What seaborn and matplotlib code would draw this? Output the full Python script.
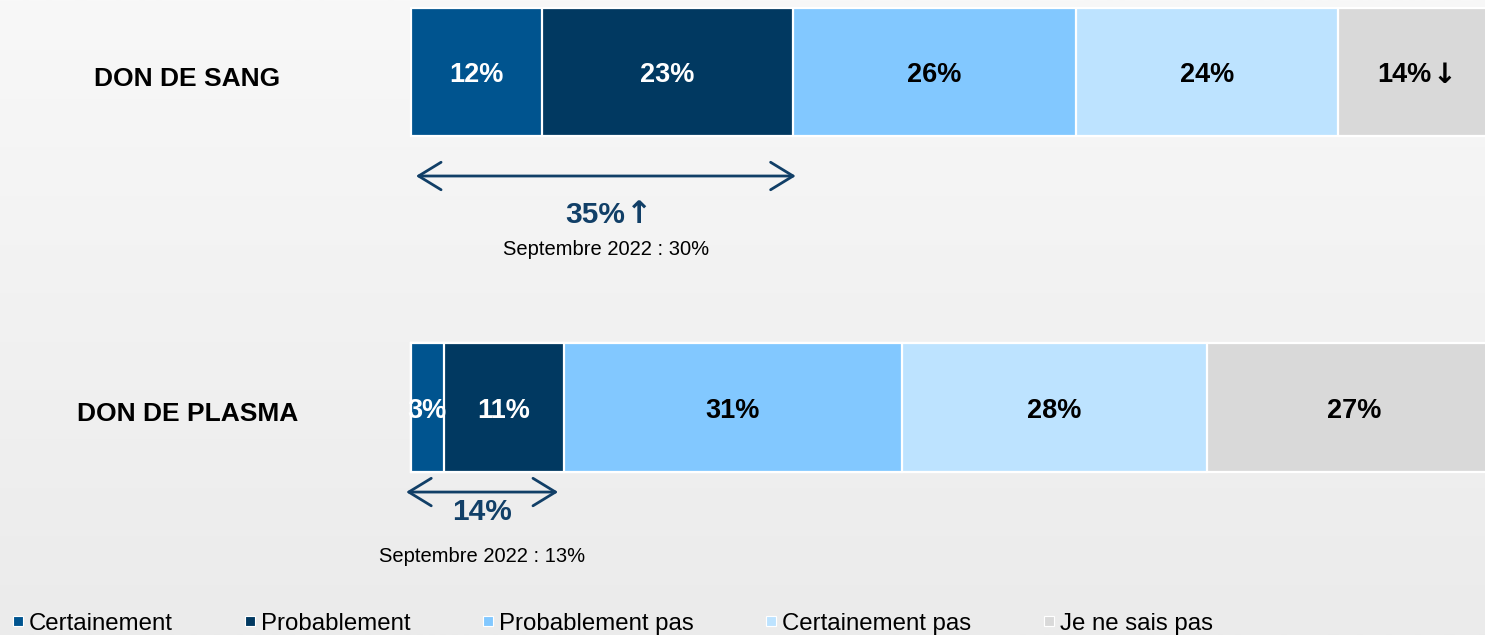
import numpy as np
import pandas as pd
import matplotlib
matplotlib.use("Agg")
import matplotlib.pyplot as plt
from matplotlib.lines import Line2D
import seaborn as sns

# ======================================================
# DATA
# ======================================================
rows = ["DON DE SANG", "DON DE PLASMA"]
categories = ["Certainement", "Probablement", "Probablement pas",
              "Certainement pas", "Je ne sais pas"]
sang = [12, 23, 26, 24, 14]
plasma = [3, 11, 31, 28, 27]
# small trend arrows next to some labels
sang_marks = ["", "", "", "", "↓"]
plasma_marks = ["", "", "", "", ""]

net_values = [35, 14]
net_marks = ["↑", ""]
sept_2022 = [30, 13]

colors = ["#00548f", "#013961", "#82c8ff", "#bde3ff", "#d9d9d9"]
text_colors = ["white", "white", "black", "black", "black"]
NAVY = "#113f67"

# ======================================================
# STYLE
# ======================================================
sns.set_style("white")
plt.rcParams["font.family"] = ["Liberation Sans", "DejaVu Sans"]
plt.rcParams["text.color"] = "black"

fig = plt.figure(figsize=(14.85, 6.35), dpi=100)
fig.patch.set_facecolor("#f0f0f0")

# soft grey background
bg = fig.add_axes([0, 0, 1, 1])
grad = np.linspace(0, 1, 256).reshape(-1, 1)
bg.imshow(grad, aspect="auto", cmap=matplotlib.colors.LinearSegmentedColormap.from_list(
    "bg", ["#f8f8f8", "#ebebeb"]), extent=[0, 1, 0, 1])
bg.axis("off")

ax = fig.add_axes([0, 0, 1, 1])
ax.set_facecolor("none")

# ======================================================
# STACKED BARS (cumulative layers, drawn back to front)
# ======================================================
df = pd.DataFrame({
    "row": np.repeat(rows, len(categories)),
    "category": categories * len(rows),
    "value": sang + plasma,
})
df["cum"] = df.groupby("row")["value"].cumsum()
df["start"] = df["cum"] - df["value"]

for i in reversed(range(len(categories))):
    sub = df[df["category"] == categories[i]]
    sns.barplot(data=sub, x="cum", y="row", order=rows, orient="h",
                color=colors[i], width=0.382, edgecolor="white",
                linewidth=1.6, saturation=1, ax=ax)


def label_with_arrow(x, y, text, mark, size, color):
    """text centred on x, with a bold arrow glyph glued to its right"""
    shift = -size * 0.33 if mark else 0
    t = ax.annotate(text, xy=(x, y), xytext=(shift, 0), textcoords="offset points",
                    ha="center", va="center", fontsize=size,
                    fontweight="bold", color=color)
    if mark:
        ax.annotate(mark, xy=(1, 0.5), xycoords=t, xytext=(0.5, 0),
                    textcoords="offset points", ha="left", va="center",
                    fontsize=size * 1.05, fontweight="bold", color=color,
                    family="DejaVu Sans")


marks = sang_marks + plasma_marks
for k, r in df.reset_index(drop=True).iterrows():
    yi = rows.index(r["row"])
    ci = categories.index(r["category"])
    label_with_arrow(r["start"] + r["value"] / 2, yi + 0.01,
                     f"{r['value']}%", marks[k], 19.5, text_colors[ci])

# row labels
for yi, name in enumerate(rows):
    ax.text(-20.5, yi + 0.02, name, ha="center", va="center",
            fontsize=19, fontweight="bold", color="black")

# ======================================================
# NET (Certainement + Probablement) ANNOTATIONS
# ======================================================
arrow_dy = [0.31, 0.252]
net_dy = [0.425, 0.311]
sept_dy = [0.53, 0.443]
for yi in range(len(rows)):
    x0 = 0.45 if yi == 0 else -0.45
    x1 = net_values[yi] + 0.3 if yi == 0 else net_values[yi] - 0.5
    ax.annotate("", xy=(x0, yi + arrow_dy[yi]), xytext=(x1, yi + arrow_dy[yi]),
                arrowprops=dict(arrowstyle="<->,head_length=0.9,head_width=0.55",
                                color=NAVY, lw=2, mutation_scale=18,
                                shrinkA=0, shrinkB=0))
    label_with_arrow(net_values[yi] / 2 + (0.3 if yi == 0 else -0.5), yi + net_dy[yi],
                     f"{net_values[yi]}%", net_marks[yi], 21.5, NAVY)
    ax.text(net_values[yi] / 2 + (0.4 if yi == 0 else -0.5), yi + sept_dy[yi],
            f"Septembre 2022 : {sept_2022[yi]}%", ha="center", va="center",
            fontsize=14.5, color="black")

ax.set_xlim(-411 / 10.9, (1485 - 411) / 10.9)
ax.set_ylim(563 / 335.5, -72 / 335.5)
ax.axis("off")

# ======================================================
# LEGEND
# ======================================================
handles = [Line2D([0], [0], marker="s", linestyle="none", markersize=7.5,
                  markerfacecolor=c, markeredgecolor="white", markeredgewidth=0.8)
           for c in colors]
leg = fig.legend(handles, categories, loc="center left", bbox_to_anchor=(0.004, 0.018),
                 ncol=5, frameon=False, fontsize=17.3, handlelength=0.6,
                 handletextpad=0.15, columnspacing=2.93, borderaxespad=0,
                 borderpad=0.2)
for txt in leg.get_texts():
    txt.set_color("black")

fig.savefig("out.png", dpi=100, facecolor=fig.get_facecolor())
